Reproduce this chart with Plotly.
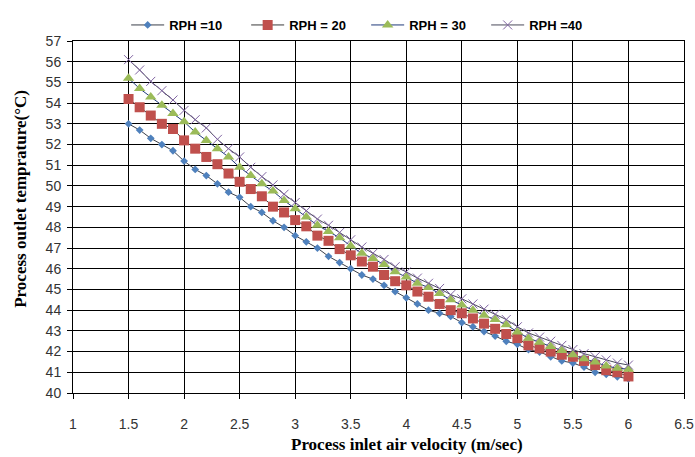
import plotly.graph_objects as go

velocity = [round(1.5 + 0.1 * i, 1) for i in range(46)]

rph10 = [53.0, 52.7, 52.3, 52.0, 51.7, 51.2, 50.8, 50.5, 50.1, 49.7,
         49.45, 49.0, 48.72, 48.32, 48.0, 47.6, 47.3, 47.0, 46.6, 46.3,
         46.0, 45.7, 45.5, 45.2, 44.9, 44.6, 44.3, 44.0, 43.85, 43.7,
         43.4, 43.2, 42.97, 42.75, 42.5, 42.35, 42.1, 41.98, 41.75, 41.55,
         41.45, 41.25, 41.0, 40.9, 40.78, 40.68]

rph20 = [54.2, 53.8, 53.4, 53.0, 52.75, 52.2, 51.8, 51.4, 51.05, 50.6,
         50.2, 49.85, 49.5, 49.0, 48.72, 48.35, 48.05, 47.6, 47.35, 46.95,
         46.65, 46.35, 46.1, 45.7, 45.4, 45.2, 44.9, 44.65, 44.3, 44.0,
         43.85, 43.6, 43.35, 43.1, 42.85, 42.65, 42.3, 42.15, 42.0, 41.85,
         41.75, 41.55, 41.35, 41.1, 41.0, 40.8]

rph30 = [55.2, 54.7, 54.3, 53.9, 53.5, 53.1, 52.6, 52.2, 51.8, 51.4,
         50.9, 50.5, 50.1, 49.75, 49.3, 48.9, 48.5, 48.1, 47.8, 47.5,
         47.1, 46.75, 46.5, 46.2, 45.85, 45.6, 45.3, 45.1, 44.8, 44.5,
         44.25, 44.0, 43.75, 43.55, 43.3, 42.95, 42.65, 42.45, 42.25, 42.05,
         41.85, 41.65, 41.5, 41.3, 41.2, 41.15]

rph40 = [56.1, 55.6, 55.05, 54.6, 54.15, 53.65, 53.2, 52.8, 52.25, 51.8,
         51.4, 50.9, 50.45, 50.05, 49.6, 49.2, 48.8, 48.4, 48.1, 47.75,
         47.4, 47.05, 46.75, 46.45, 46.1, 45.85, 45.55, 45.3, 45.05, 44.75,
         44.55, 44.3, 44.05, 43.8, 43.55, 43.2, 42.9, 42.7, 42.5, 42.3,
         42.1, 41.9, 41.75, 41.6, 41.45, 41.35]

x_ticks = [1, 1.5, 2, 2.5, 3, 3.5, 4, 4.5, 5, 5.5, 6, 6.5]
x_labels = ["1", "1.5", "2", "2.5", "3", "3.5", "4", "4.5", "5", "5.5", "6", "6.5"]
y_ticks = list(range(40, 58))

x_title = "Process inlet air velocity (m/sec)"
y_title = "Process outlet temprature(°C)"

fig = go.Figure()

fig.add_trace(go.Scatter(
    x=velocity, y=rph10, name="<b>RPH =10</b>", mode="lines+markers",
    line=dict(color="#3a3f4a", width=1),
    marker=dict(symbol="diamond", size=6, color="#4F81BD")))
fig.add_trace(go.Scatter(
    x=velocity, y=rph20, name="<b>RPH = 20</b>", mode="lines+markers",
    line=dict(color="#3a3a3a", width=1),
    marker=dict(symbol="square", size=10, color="#C0504D")))
fig.add_trace(go.Scatter(
    x=velocity, y=rph30, name="<b>RPH = 30</b>", mode="lines+markers",
    line=dict(color="#1F3A7A", width=1),
    marker=dict(symbol="triangle-up", size=10, color="#9BBB59")))
fig.add_trace(go.Scatter(
    x=velocity, y=rph40, name="<b>RPH =40</b>", mode="lines+markers",
    line=dict(color="#4a4a5a", width=1),
    marker=dict(symbol="x-thin", size=9, color="#8064A2",
                line=dict(color="#8064A2", width=1))))

axis_font = dict(family="Liberation Sans, Arial", size=14, color="#333")
title_font = dict(family="Liberation Serif, Times New Roman", size=17, color="black")

fig.update_layout(
    width=695, height=457,
    margin=dict(l=73, r=11, t=40, b=64),
    paper_bgcolor="white", plot_bgcolor="white",
    showlegend=True,
    legend=dict(orientation="h", x=0.087, xanchor="left", y=1.0, yanchor="bottom",
                font=dict(family="Liberation Sans, Arial", size=13, color="black"),
                itemwidth=33, entrywidth=72, entrywidthmode="pixels",
                traceorder="normal"),
    xaxis=dict(range=[1, 6.5], tickvals=x_ticks, ticktext=x_labels,
               showgrid=True, gridcolor="black", gridwidth=1,
               showline=True, linecolor="black", linewidth=1, mirror=True,
               ticks="outside", ticklen=5, tickcolor="black",
               tickfont=axis_font, zeroline=False, automargin=False,
               ticklabelstandoff=13),
    yaxis=dict(range=[40, 57], tickvals=y_ticks,
               showgrid=True, gridcolor="black", gridwidth=1,
               showline=True, linecolor="black", linewidth=1, mirror=True,
               ticks="outside", ticklen=5, tickcolor="black",
               tickfont=axis_font, zeroline=False, automargin=False,
               ticklabelstandoff=3),
    annotations=[
        dict(text="<b>" + x_title + "</b>", xref="paper", yref="paper",
             x=0.547, y=-0.147, xanchor="center", yanchor="middle",
             showarrow=False, font=title_font),
        dict(text="<b>" + y_title + "</b>", xref="paper", yref="paper",
             x=-0.085, y=0.552, xanchor="center", yanchor="middle",
             textangle=-90, showarrow=False, font=title_font),
    ],
)

fig.write_html("out.html")
